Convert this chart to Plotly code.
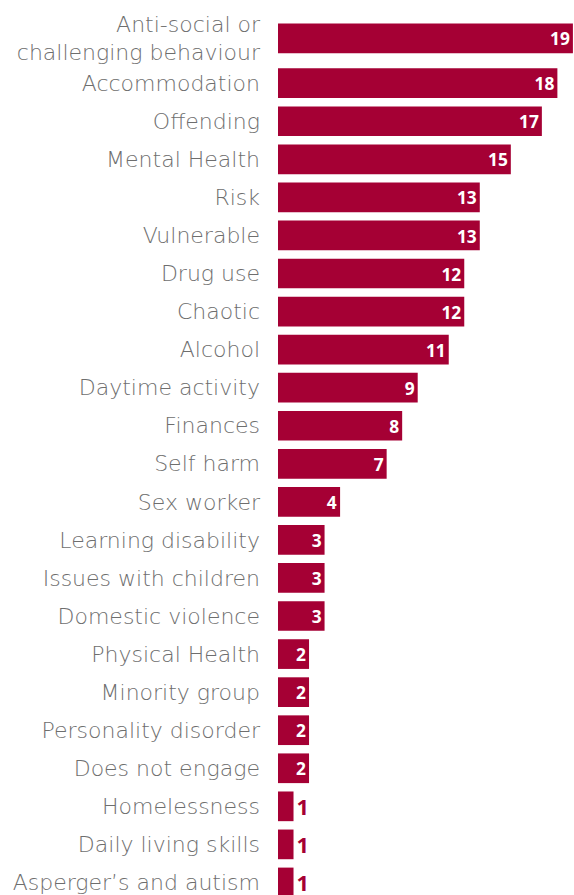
import plotly.graph_objects as go

categories = [
    "Anti-social or<br>challenging behaviour", "Accommodation", "Offending", "Mental Health",
    "Risk", "Vulnerable", "Drug use", "Chaotic", "Alcohol", "Daytime activity",
    "Finances", "Self harm", "Sex worker", "Learning disability", "Issues with children",
    "Domestic violence", "Physical Health", "Minority group", "Personality disorder",
    "Does not engage", "Homelessness", "Daily living skills", "Asperger’s and autism",
]
values = [19, 18, 17, 15, 13, 13, 12, 12, 11, 9, 8, 7, 4, 3, 3, 3, 2, 2, 2, 2, 1, 1, 1]

BAR = "#A50034"
n = len(categories)
# extra room after the two-line first label
ypos = [i + (0.18 if i > 0 else 0) for i in range(n)]
positions = ["inside" if v > 1 else "outside" for v in values]

fig = go.Figure(go.Bar(
    y=ypos, x=values, orientation="h",
    marker=dict(color=BAR, line=dict(width=0)),
    width=0.78,
    text=[str(v) for v in values],
    textposition=positions,
    insidetextanchor="end",
    insidetextfont=dict(color="white", size=22, family="Open Sans", weight="bold"),
    outsidetextfont=dict(color=BAR, size=22, family="Open Sans", weight="bold"),
    textangle=0,
    cliponaxis=False,
    hoverinfo="skip",
))

fig.update_layout(
    width=574, height=895,
    margin=dict(l=278, r=0, t=0, b=0),
    paper_bgcolor="white", plot_bgcolor="white",
    showlegend=False,
    xaxis=dict(range=[0, 19.07], visible=False, showgrid=False, zeroline=False),
    yaxis=dict(
        range=[ypos[-1] + 0.33, -1.006],
        tickmode="array", tickvals=ypos, ticktext=categories,
        showgrid=False, zeroline=False, showline=False, ticks="",
        ticklabelstandoff=17,
        ticklabeloverflow="allow",
        tickfont=dict(family="DejaVu Sans", size=22, color="#6e6e6e", weight=300),
    ),
)

fig.write_html("out.html")
